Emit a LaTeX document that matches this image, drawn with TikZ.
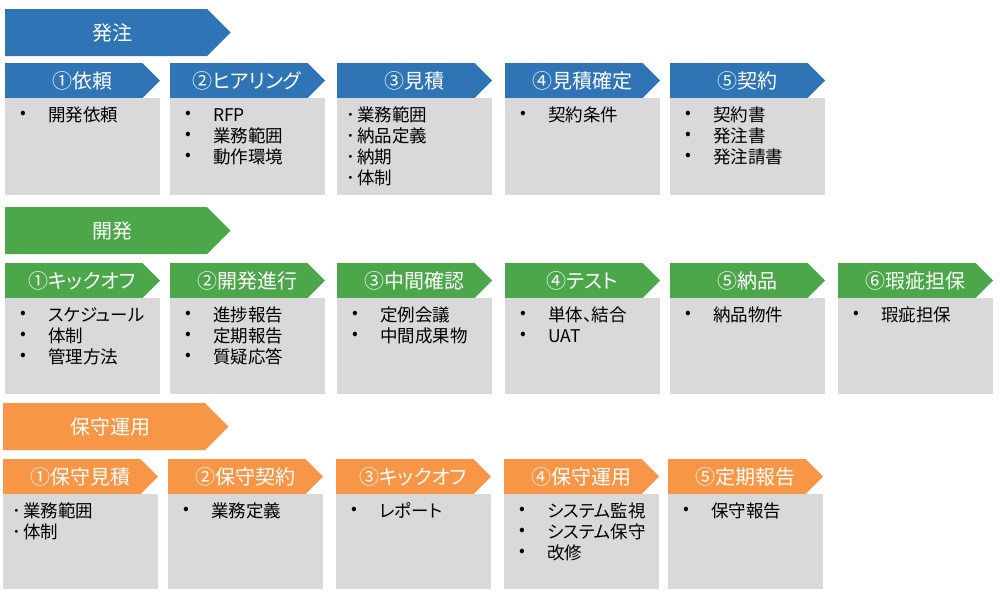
\documentclass[tikz,border=0pt]{standalone}
\usepackage{fontspec}
\setmainfont[RawFeature=+palt]{Noto Sans CJK JP}
\definecolor{cblue}{HTML}{2F75B5}
\definecolor{cgreen}{HTML}{4CA64A}
\definecolor{corange}{HTML}{F79646}
\definecolor{cgrey}{HTML}{D9D9D9}
\tikzset{
  hdtext/.style={text=white, inner sep=0pt, font=\fontsize{20}{24}\selectfont},
  greybox/.style={fill=cgrey, draw=none, anchor=north west, minimum width=155pt, inner sep=0pt},
  bodytext/.style={text=black, inner sep=0pt, font=\fontsize{17.5}{21}\selectfont},
  bulletmark/.style={text=black, inner sep=0pt, font=\fontsize{17}{20}\selectfont},
}
% big phase header: name, x, y, color, text
\newcommand{\phasehead}[5]{%
  \fill[#4] (#2,#3) -- ++(202,0) -- ++(23.5,23.5) -- ++(-23.5,23.5) -- ++(-202,0) -- cycle;
  \node[hdtext] (#1) at ({#2+107},{#3+23.5}) {#5};
}
% step box: name, x, y, color, title, style(0 bullet,1 dot), items, grey height
\newcommand{\stepbox}[8]{%
  \fill[#4] (#2,#3) -- ++(137.5,0) -- ++(17.5,17.5) -- ++(-17.5,17.5) -- ++(-137.5,0) -- cycle;
  \node[hdtext] (#1h) at ({#2+77},{#3+17.5}) {#5};
  \node[greybox, minimum height=#8 pt] (#1) at (#2,{#3+35}) {};
  \foreach \t [count=\k] in {#7} {
    \ifnum#6=0
      \node[bulletmark, anchor=center] (#1-b\k) at ({#2+18},{#3+35+17+21*(\k-1)}) {\makebox[5pt][c]{•}};
      \node[bodytext, anchor=base west] (#1-t\k) at ({#2+43},{#3+35+23.5+21*(\k-1)}) {\t};
    \else
      \node[bodytext, anchor=base] (#1-b\k) at ({#2+14},{#3+35+23.5+21*(\k-1)}) {･};
      \node[bodytext, anchor=base west] (#1-t\k) at ({#2+20},{#3+35+23.5+21*(\k-1)}) {\t};
    \fi
  }
}
\begin{document}
\begin{tikzpicture}[x=1pt,y=-1pt]
\useasboundingbox (0,0) rectangle (1000,600);
% Row 1: 発注
\phasehead{p1}{5}{9}{cblue}{発注}
\stepbox{a1}{5}{63}{cblue}{①依頼}{0}{開発依頼}{97}
\stepbox{a2}{170}{63}{cblue}{②ヒアリング}{0}{RFP,業務範囲,動作環境}{97}
\stepbox{a3}{337}{63}{cblue}{③見積}{1}{業務範囲,納品定義,納期,体制}{97}
\stepbox{a4}{505}{63}{cblue}{④見積確定}{0}{契約条件}{97}
\stepbox{a5}{670}{63}{cblue}{⑤契約}{0}{契約書,発注書,発注請書}{97}
% Row 2: 開発
\phasehead{p2}{5}{207}{cgreen}{開発}
\stepbox{b1}{5}{263}{cgreen}{①キックオフ}{0}{スケジュール,体制,管理方法}{96}
\stepbox{b2}{170}{263}{cgreen}{②開発進行}{0}{進捗報告,定期報告,質疑応答}{96}
\stepbox{b3}{337}{263}{cgreen}{③中間確認}{0}{定例会議,中間成果物}{96}
\stepbox{b4}{505}{263}{cgreen}{④テスト}{0}{単体、結合,UAT}{96}
\stepbox{b5}{670}{263}{cgreen}{⑤納品}{0}{納品物件}{96}
\stepbox{b6}{838}{263}{cgreen}{⑥瑕疵担保}{0}{瑕疵担保}{96}
% Row 3: 保守運用
\phasehead{p3}{3}{403}{corange}{保守運用}
\stepbox{c1}{3}{459}{corange}{①保守見積}{1}{業務範囲,体制}{95}
\stepbox{c2}{168}{459}{corange}{②保守契約}{0}{業務定義}{95}
\stepbox{c3}{336}{459}{corange}{③キックオフ}{0}{レポート}{95}
\stepbox{c4}{504}{459}{corange}{④保守運用}{0}{システム監視,システム保守,改修}{95}
\stepbox{c5}{668}{459}{corange}{⑤定期報告}{0}{保守報告}{95}
\end{tikzpicture}
\end{document}
